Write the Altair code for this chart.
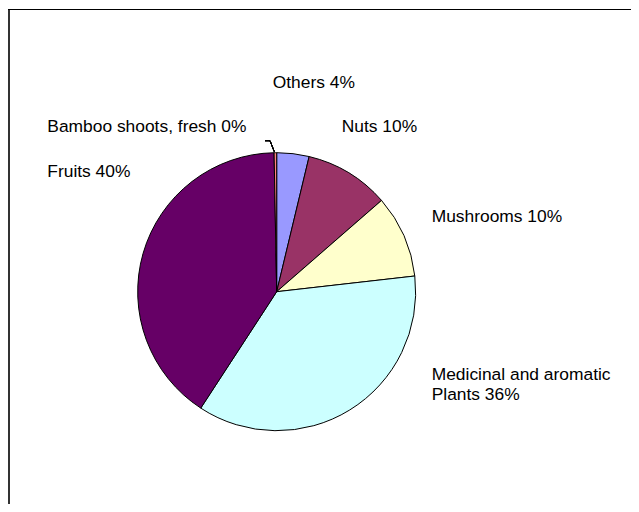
import altair as alt
import pandas as pd

# Data
categories = ["Others", "Nuts", "Mushrooms", "Medicinal and aromatic Plants", "Fruits", "Bamboo shoots, fresh"]
shares = [3.75, 9.85, 9.6, 36.0, 40.5, 0.3]
label_texts = ["Others 4%", "Nuts 10%", "Mushrooms 10%", "Medicinal and aromatic\nPlants 36%", "Fruits 40%", "Bamboo shoots, fresh 0%"]

# Styling / layout
colors = ["#9999FF", "#993366", "#FFFFCC", "#CCFFFF", "#660066", "#FF8080"]
label_x = [264.7, 333.7, 423.7, 423.7, 39.3, 39.3]
label_y = [79.7, 123.7, 214.3, 372.0, 168.7, 123.7]
W, H = 623, 496
CX, CY, R = 268.7, 283.7, 139

pie_df = pd.DataFrame({"category": categories, "share": shares, "idx": list(range(len(categories)))})
lab_df = pd.DataFrame({"text": label_texts, "lx": label_x, "ly": label_y})

pie = alt.Chart(pie_df).mark_arc(radius=R, stroke="black", strokeWidth=1).encode(
    theta=alt.Theta("share:Q", stack=True),
    order=alt.Order("idx:Q", sort="ascending"),
    color=alt.Color("category:N", scale=alt.Scale(domain=categories, range=colors), legend=None),
    x=alt.value(CX),
    y=alt.value(CY),
)

labels = alt.Chart(lab_df).mark_text(
    align="left", baseline="alphabetic", font="Liberation Sans", fontSize=17.4,
    color="black", lineBreak="\n", lineHeight=19.5,
).encode(
    x=alt.X("lx:Q", scale=None),
    y=alt.Y("ly:Q", scale=None),
    text="text:N",
)

leader1 = alt.Chart(pie_df).mark_rule(color="black", strokeWidth=1).encode(
    x=alt.value(257), x2=alt.value(262), y=alt.value(132.7), y2=alt.value(132.7)
)
leader2 = alt.Chart(pie_df).mark_rule(color="black", strokeWidth=1).encode(
    x=alt.value(262), x2=alt.value(266.3), y=alt.value(132.7), y2=alt.value(143.7)
)

frame_left = alt.Chart(pie_df).mark_rule(color="#333333", strokeWidth=2).encode(
    x=alt.value(1), x2=alt.value(1), y=alt.value(1), y2=alt.value(H)
)
frame_top = alt.Chart(pie_df).mark_rule(color="black", strokeWidth=1).encode(
    x=alt.value(0), x2=alt.value(W), y=alt.value(1.5), y2=alt.value(1.5)
)

chart = alt.layer(pie, labels, leader1, leader2, frame_left, frame_top).properties(
    width=W, height=H, autosize=alt.AutoSizeParams(type="none"), padding=0, background="white"
).configure_view(stroke=None)

chart.save("out.html", embed_options={"renderer": "svg", "actions": False})
